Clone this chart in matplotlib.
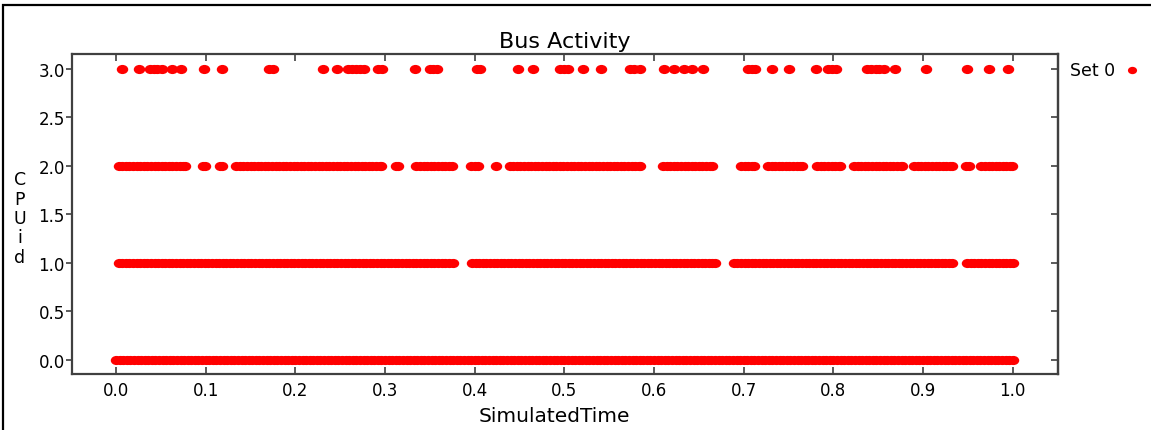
import numpy as np
import matplotlib
matplotlib.use("Agg")
import matplotlib.pyplot as plt
from matplotlib.patches import Rectangle
from matplotlib.path import Path

# x positions (thousandths of SimulatedTime), one list per CPU id
cpu0_t = [0, 4, 8, 12, 16, 20, 24, 28, 32, 36, 40, 44, 48, 52, 56, 60, 64, 68, 72, 76, 80, 84, 88, 92, 96,
          100, 104, 108, 112, 116, 120, 124, 128, 132, 136, 140, 144, 148, 152, 156, 160, 164, 168, 172, 176, 180, 184, 188, 192, 196,
          200, 204, 208, 212, 216, 220, 224, 228, 232, 236, 240, 244, 248, 252, 256, 260, 264, 268, 272, 276, 280, 284, 288, 292, 296,
          300, 304, 308, 312, 316, 320, 324, 328, 332, 336, 340, 344, 348, 352, 356, 360, 364, 368, 372, 376, 380, 384, 388, 392, 396,
          400, 404, 408, 412, 416, 420, 424, 428, 432, 436, 440, 444, 448, 452, 456, 460, 464, 468, 472, 476, 480, 484, 488, 492, 496,
          500, 504, 508, 512, 516, 520, 524, 528, 532, 536, 540, 544, 548, 552, 556, 560, 564, 568, 572, 576, 580, 584, 588, 592, 596,
          600, 604, 608, 612, 616, 620, 624, 628, 632, 636, 640, 644, 648, 652, 656, 660, 664, 668, 672, 676, 680, 684, 688, 692, 696,
          700, 704, 708, 712, 716, 720, 724, 728, 732, 736, 740, 744, 748, 752, 756, 760, 764, 768, 772, 776, 780, 784, 788, 792, 796,
          800, 804, 808, 812, 816, 820, 824, 828, 832, 836, 840, 844, 848, 852, 856, 860, 864, 868, 872, 876, 880, 884, 888, 892, 896,
          900, 904, 908, 912, 916, 920, 924, 928, 932, 936, 940, 944, 948, 952, 956, 960, 964, 968, 972, 976, 980, 984, 988, 992, 996,
          1000]
cpu1_t = [3, 7, 11, 15, 19, 23, 27, 31, 35, 39, 43, 47, 51, 55, 59, 63, 67, 71, 75, 79, 83, 87, 91, 95, 99,
          103, 107, 111, 115, 119, 123, 127, 131, 135, 139, 143, 147, 151, 155, 159, 163, 167, 171, 175, 179, 183, 187, 191, 195, 199,
          203, 207, 211, 215, 219, 223, 227, 231, 235, 239, 243, 247, 251, 255, 259, 263, 267, 271, 275, 279, 283, 287, 291, 295, 299,
          303, 307, 311, 315, 319, 323, 327, 331, 335, 339, 343, 347, 351, 355, 359, 363, 367, 371, 376,
          397, 401, 405, 409, 413, 417, 421, 425, 429, 433, 437, 441, 445, 449, 453, 457, 461, 465, 469, 473, 477, 481, 485, 489, 493,
          497, 501, 505, 509, 513, 517, 521, 525, 529, 533, 537, 541, 545, 549, 553, 557, 561, 565, 569, 573, 577, 581, 585, 589, 593,
          597, 601, 605, 609, 613, 617, 621, 625, 629, 633, 637, 641, 645, 649, 653, 657, 661, 665, 668,
          689, 693, 697, 701, 705, 709, 713, 717, 721, 725, 729, 733, 737, 741, 745, 749, 753, 757, 761, 765, 769, 773, 777, 781, 785,
          789, 793, 797, 801, 805, 809, 813, 817, 821, 825, 829, 833, 837, 841, 845, 849, 853, 857, 861, 865, 869, 873, 877, 881, 885,
          889, 893, 897, 901, 905, 909, 913, 917, 921, 925, 929, 932,
          949, 953, 957, 961, 965, 969, 973, 977, 981, 985, 989, 993, 997, 1000]
cpu2_t = [3, 7, 11, 15, 19, 23, 27, 31, 35, 39, 43, 47, 51, 55, 59, 63, 67, 71, 75, 77, 97, 99, 116, 118,
          134, 138, 142, 146, 150, 154, 158, 162, 166, 170, 174, 178, 182, 186, 190, 194, 198, 202, 206, 210,
          214, 218, 222, 226, 230, 234, 238, 242, 246, 250, 254, 258, 262, 266, 270, 274, 278, 282, 286, 290, 294, 296,
          312, 314, 335, 339, 343, 347, 351, 355, 359, 363, 367, 371, 375, 396, 400, 404, 424,
          439, 443, 447, 451, 455, 459, 463, 467, 471, 475, 479, 483, 487, 491, 495, 499, 503, 507, 511, 515, 519,
          523, 527, 531, 535, 539, 543, 547, 551, 555, 559, 563, 567, 571, 575, 579, 583, 584,
          610, 614, 618, 622, 626, 630, 634, 638, 642, 646, 650, 654, 658, 662, 665,
          697, 701, 705, 709, 712, 727, 731, 735, 739, 743, 747, 751, 755, 759, 763, 765,
          782, 786, 790, 794, 798, 802, 806, 807,
          823, 827, 831, 835, 839, 843, 847, 851, 855, 859, 863, 867, 871, 875, 877,
          890, 894, 898, 902, 906, 910, 914, 918, 922, 926, 930, 932, 948, 951,
          965, 969, 973, 977, 981, 985, 989, 993, 997, 999]
cpu3_t = [7, 26, 38, 42, 46, 51, 63, 73, 98, 118, 171, 175, 231, 247, 259, 263, 268, 272, 277,
          292, 297, 333, 350, 354, 358, 403, 406, 448, 465, 495, 500, 504, 521, 541, 573, 578, 584,
          611, 622, 633, 642, 655, 705, 709, 713, 731, 751, 781, 794, 798, 803,
          838, 842, 847, 851, 856, 869, 903, 949, 973, 995]

x_ticks = [0.0, 0.1, 0.2, 0.3, 0.4, 0.5, 0.6, 0.7, 0.8, 0.9, 1.0]
y_ticks = [0.0, 0.5, 1.0, 1.5, 2.0, 2.5, 3.0]

times = []
cpus = []
for cpu, ts in enumerate([cpu0_t, cpu1_t, cpu2_t, cpu3_t]):
    times += [t / 1000 for t in ts]
    cpus += [cpu] * len(ts)

# slightly wide dot, like the stretched original
circ = Path.unit_circle()
dot = Path(circ.vertices * [1.0, 0.8], circ.codes)

plt.rcParams['font.family'] = ['DejaVu Sans']
fig = plt.figure(figsize=(11.51, 4.31), dpi=100)
ax = fig.add_axes([71.7 / 1151, 1 - 375 / 431, 986.6 / 1151, 320.3 / 431])

ax.scatter(times, cpus, s=68, marker=dot, color='#ff0000', linewidths=0, label='Set 0')

ax.set_xlim(-0.0494, 1.0508)
ax.set_ylim(-0.144, 3.155)
ax.set_xticks(x_ticks)
ax.set_yticks(y_ticks)
ax.set_xticklabels([f"{v:.1f}" for v in x_ticks])
ax.set_yticklabels([f"{v:.1f}" for v in y_ticks])

for sp in ax.spines.values():
    sp.set_color('#404040')
    sp.set_linewidth(1.6)
ax.tick_params(axis='x', direction='in', length=5, width=1.2, color='#404040',
               top=True, labelsize=12, pad=5)
ax.tick_params(axis='y', direction='out', length=4, width=1.2, color='#404040',
               right=False, labelsize=12, pad=1)

# right side ticks point inward, no labels
sec = ax.secondary_yaxis('right')
sec.set_yticks(y_ticks)
sec.tick_params(direction='in', length=5, width=1.2, color='#404040', labelright=False)
sec.spines['right'].set_color('#404040')
sec.spines['right'].set_linewidth(1.6)

ax.set_title("Bus Activity", fontsize=16, pad=5)
ax.set_xlabel("SimulatedTime", fontsize=14.5)
ax.xaxis.set_label_coords(0.489, -0.1)
ax.set_ylabel("C\nP\nU\ni\nd", rotation=0, fontsize=12.5, linespacing=1.1,
              va='center', ha='center')
ax.yaxis.set_label_coords((20 - 71.7) / 986.6, (375 - 219) / 320.3)

ax.legend(loc='center left', bbox_to_anchor=(1054 / 1151, 1 - 71 / 431),
          bbox_transform=fig.transFigure, frameon=False, markerfirst=False,
          handletextpad=0.6, handlelength=0.8, fontsize=12.5, scatterpoints=1,
          markerscale=0.8)

fig.patches.append(Rectangle((3.3 / 1151, -0.01), 1.2, 1 - 6 / 431 + 0.01,
                             transform=fig.transFigure, fill=False,
                             edgecolor='black', linewidth=1.6))

fig.savefig("out.png", dpi=100)
